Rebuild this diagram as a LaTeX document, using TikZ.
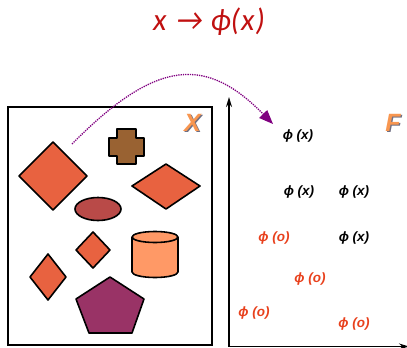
\documentclass[tikz,border=0pt]{standalone}
\usepackage{fontspec}
\setmainfont{Liberation Sans}
\newfontfamily\titlefont{Carlito}
\usetikzlibrary{arrows.meta}
\definecolor{titlered}{RGB}{192,16,16}
\definecolor{ored}{RGB}{232,64,28}
\definecolor{dia}{RGB}{232,98,64}
\definecolor{crossbrown}{RGB}{153,98,50}
\definecolor{ellred}{RGB}{185,74,72}
\definecolor{cyl}{RGB}{255,153,102}
\definecolor{penta}{RGB}{153,51,102}
\definecolor{lbl}{RGB}{248,150,80}
\definecolor{lblshadow}{RGB}{110,110,130}
\definecolor{arcpurple}{RGB}{128,0,128}
\tikzset{
  blob/.style={draw=black, line width=1.6pt, line join=round},
  phix/.style={font=\fontsize{13.5}{13.5}\selectfont\bfseries\itshape, text=black, inner sep=0pt},
  phio/.style={font=\fontsize{13.5}{13.5}\selectfont\bfseries\itshape, text=ored, inner sep=0pt},
  biglabel/.style={font=\fontsize{25}{25}\selectfont\bfseries\itshape, inner sep=0pt},
  axis/.style={line width=1.5pt, -{Stealth[open,length=10pt,width=6pt]}}
}
\begin{document}
\begin{tikzpicture}[x=1pt,y=-1pt]
\useasboundingbox (0,0) rectangle (407,348);
% title
\node[font=\titlefont\itshape\fontsize{31}{31}\selectfont, text=titlered, inner sep=0pt] (title) at (209,22) {x\kern2pt{} → ϕ(\kern1pt x\kern1pt)};
% input space box
\draw[line width=2pt] (8,107) rectangle (212,345);
\node[biglabel, text=lblshadow] (Xs) at (193.7,123.7) {X};
\node[biglabel, text=lbl] (X) at (192.5,122.5) {X};
% shapes
\draw[blob, fill=dia] (19,176) -- (53,142) -- (87,176) -- (53,210) -- cycle;
\draw[blob, fill=crossbrown] (117,129) -- (136,129) -- (136,138) -- (144,138) -- (144,156) -- (136,156) -- (136,164) -- (117,164) -- (117,156) -- (109,156) -- (109,138) -- (117,138) -- cycle;
\draw[blob, fill=dia] (132,186) -- (166,164) -- (200,186) -- (166,209) -- cycle;
\draw[blob, fill=ellred] (98,209) ellipse [x radius=23, y radius=11.5];
\draw[blob, fill=dia] (76,250) -- (93,232) -- (110,250) -- (93,268) -- cycle;
\draw[blob, fill=cyl] (132,237) -- (132,272) arc[start angle=180, end angle=360, x radius=23, y radius=-5.5] -- (178,237);
\draw[blob, fill=cyl] (155,237) ellipse [x radius=23, y radius=5.5];
\draw[blob, fill=dia] (30,277) -- (48,254) -- (66,277) -- (48,300) -- cycle;
\draw[blob, fill=penta] (110,277) -- (144,299) -- (132,333) -- (89,333) -- (76,299) -- cycle;
% feature space axes
\coordinate (origin) at (229,346.5);
\coordinate (ytip) at (229,97);
\coordinate (xtip) at (409,346.5);
\draw[axis] (origin) -- (ytip);
\draw[axis] (origin) -- (xtip);
\node[biglabel, text=lblshadow] (Fs) at (394.2,123.7) {F};
\node[biglabel, text=lbl] (F) at (393,122.5) {F};
% mapped points
\node[phix] (p1) at (298,136) {ϕ (x)};
\node[phix] (p2) at (299,192) {ϕ (x)};
\node[phix] (p3) at (354,192) {ϕ (x)};
\node[phio] (q1) at (274,238) {ϕ (o)};
\node[phix] (p4) at (354,238) {ϕ (x)};
\node[phio] (q2) at (310,279) {ϕ (o)};
\node[phio] (q3) at (254,313) {ϕ (o)};
\node[phio] (q4) at (354,324) {ϕ (o)};
% mapping arc
\coordinate (arcstart) at (72,144);
\coordinate (arcend) at (273,124);
\draw[arcpurple, line width=1.3pt, densely dotted, -{Triangle[length=14pt,width=11pt]}] (arcstart) .. controls (158,57) and (207,57) .. (arcend);
\end{tikzpicture}
\end{document}
